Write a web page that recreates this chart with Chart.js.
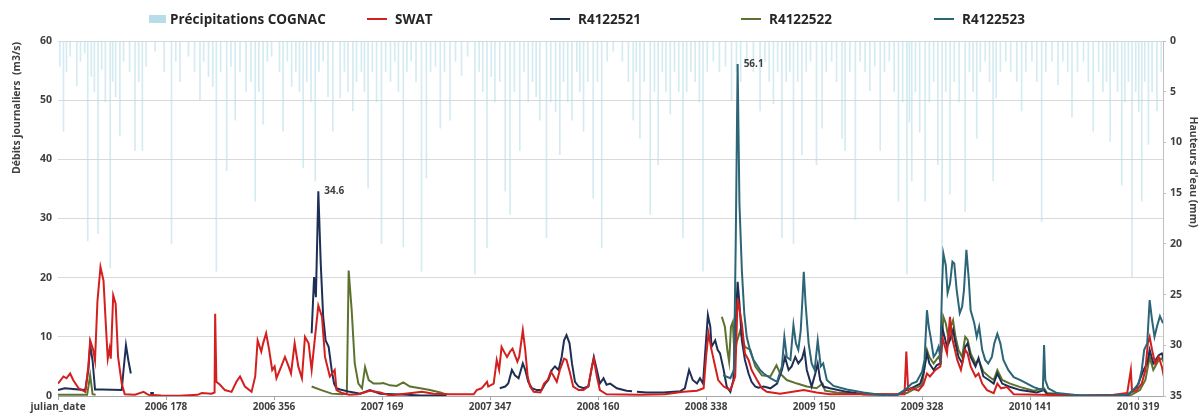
<!DOCTYPE html>
<html>
<head>
<meta charset="utf-8">
<script src="https://cdn.jsdelivr.net/npm/chart.js@4.4.1/dist/chart.umd.min.js"></script>
<style>
  html, body { margin: 0; padding: 0; background: #fff; }
  #wrap { position: relative; width: 1203px; height: 414px; }
  #legend { position: absolute; top: 9px; left: 0; width: 1203px; height: 20px;
    font: bold 13.5px "Open Sans", sans-serif; color: #262626; }
  .item { position: absolute; top: 0; display: flex; align-items: center; height: 20px; white-space: nowrap; }
  .box { width: 17px; height: 8px; background: #b7dde8; margin-right: 4px; }
  .line { width: 20px; height: 2px; margin-right: 8px; }
</style>
</head>
<body>
<div id="wrap">
  <canvas id="flowChart"></canvas>
  <div id="legend">
    <div class="item" style="left:149px"><span class="box"></span>Précipitations COGNAC</div>
    <div class="item" style="left:367px"><span class="line" style="background:#d41f1f"></span>SWAT</div>
    <div class="item" style="left:550px"><span class="line" style="background:#1e2f55"></span>R4122521</div>
    <div class="item" style="left:741px"><span class="line" style="background:#5e7230"></span>R4122522</div>
    <div class="item" style="left:934px"><span class="line" style="background:#2c6577"></span>R4122523</div>
  </div>
</div>
<script>
// day index since 2006-01-01 (category 0 is the "julian_date" header)
const tickDays = [0, 178, 356, 534, 712, 890, 1068, 1246, 1424, 1602, 1780];
const tickLabels = ['julian_date', '2006 178', '2006 356', '2007 169', '2007 347', '2008 160',
  '2008 338', '2009 150', '2009 328', '2010 141', '2010 319'];

// precipitation COGNAC, [day, mm]
const precip = [[3,2.5],[9,8.9],[14,3],[20,1.5],[31,4.4],[37,2],[44,1.2],[49,19.7],[55,3.5],[60,5],[66,19],[72,2.8],[78,6],[86,22.4],[90,4],[95,5.5],[102,9.3],[108,2],[118,3],[127,10.8],[133,4],[139,10.8],[145,2.5],[160,1],[175,3],[187,20],[194,2],[201,4],[215,1.5],[225,3],[234,5.8],[240,2],[248,3.5],[255,4.5],[261,22.7],[268,3],[278,12.8],[285,2.5],[292,7.8],[300,3],[310,5],[318,4],[325,15.8],[331,5],[338,8.2],[345,2],[352,1.5],[365,3],[371,8.9],[378,2],[385,4.5],[392,3],[398,5],[404,12.5],[410,4],[417,6],[424,13.8],[430,3],[437,2],[445,5.5],[453,8.9],[465,5.6],[472,3],[478,5],[486,6.9],[492,4],[500,3],[505,5],[511,14.5],[518,3],[525,6],[533,20],[540,3],[548,4],[555,2],[561,5],[569,20.3],[575,3],[582,2],[590,4],[599,22.7],[607,13.5],[614,3],
  [622,2.5],[630,8.6],[637,3],[646,7.8],[655,2],[665,3.4],[675,1.5],[687,23],[694,3],[700,5],[707,20.4],[714,3.5],[720,6],[728,4],[737,14.8],[745,17.1],[752,5],[761,10.8],[768,3],[775,6],[782,4],[788,5.5],[794,7.8],[805,19.4],[812,6],[820,7],[827,11.2],[833,4],[840,6],[847,7.8],[855,3],[860,5],[866,8.9],[873,4],[882,15.5],[889,4],[896,20.4],[905,2],[915,1],[930,2],[940,4],[948,7.8],[953,3],[959,9.6],[966,4],[976,17.1],[983,5],[989,12.2],[996,3],[1002,5],[1009,7.2],[1016,3],[1023,5],[1030,19.4],[1036,5],[1043,3],[1050,4],[1057,6],[1063,22.7],[1070,3],[1080,2],[1090,3],[1100,2.5],[1110,5.9],[1118,3],[1125,4],[1135,2],[1146,3],[1157,6.9],[1165,2],[1172,4],[1179,6.2],[1186,3],[1193,19.4],[1200,4],[1206,3],[1212,20],[1219,4],
  [1226,11.2],[1233,3],[1240,2],[1250,12.2],[1259,8.6],[1266,3],[1275,2],[1283,4],[1292,9.6],[1297,10.8],[1305,3],[1314,17.6],[1322,2],[1330,3],[1338,4.9],[1346,2.5],[1355,10.8],[1362,3],[1370,2],[1378,5],[1385,15.8],[1392,6],[1399,23],[1403,8],[1407,13.8],[1413,5],[1420,9],[1429,15.8],[1436,6],[1443,4],[1450,12.2],[1457,22.7],[1463,5],[1470,15.1],[1477,4],[1485,6],[1495,16.8],[1502,3],[1508,5],[1514,9.6],[1520,3],[1528,2],[1535,4],[1541,13.8],[1546,5.6],[1553,3],[1562,2],[1570,3],[1580,4],[1588,6.9],[1595,3],[1605,2],[1613,4],[1621,17.8],[1628,3],[1638,2],[1648,4.3],[1656,2],[1664,3],[1671,7.5],[1680,3],[1690,2],[1698,4],[1706,8.9],[1715,3],[1722,5],[1728,4],[1734,9.9],[1740,3],[1746,5],[1753,14.2],[1758,6],[1764,4],[1770,23.3],[1776,5],[1781,7],[1786,15.8],[1791,4],[1797,10.2],[1803,5],[1811,6.9],[1818,3]];

// daily flows, [day, m3/s]; null breaks the line where data is missing
const swat = [[0,2.1],[9,3.3],[14,3.0],[20,3.8],[25,2.7],[34,1.3],[45,0.7],[50,5],[53,9.4],[58,7.8],[61,6],[65,16],[70,21.8],[75,19.5],[79,11.7],[82,6.3],[85,8],[87,6.3],[91,17],[95,15.6],[99,6.6],[105,2.1],[110,0.3],[127,0.2],[141,0.7],[149,0.2],[170,0.1],[200,0.05],[230,0.2],[237,0.5],[253,0.4],[258,0.6],[259,13.9],[261,2.4],[267,1.9],[275,1.0],[286,0.7],[294,2.4],[300,3.3],[308,1.6],[319,0.7],[325,3.3],[329,9.4],[335,7.5],[338,8.9],[343,10.6],[348,7.8],[353,4.4],[357,5],[360,3],[368,5],[374,6.6],[380,5],[384,3.8],[390,8.9],[396,5],[402,3],[407,10],[413,8.9],[418,4.4],[423,9.4],[429,15.3],[435,13.4],[440,6.6],[448,3.3],[456,4.4],[459,1.0],[468,0.5],[480,0.2],[495,0.3],[514,0.9],[531,0.6],[547,0.1],[600,0.7],[619,0.4],[646,0.3],[685,0.3],[690,1.0],[698,1.3],[707,2.4],[709,1.6],[718,2.1],[723,6.1],[727,4.4],[731,8.3],[735,7.5],[740,6.6],[745,7.5],[749,8],[753,6.9],[757,5.8],[760,6.6],[766,11.1],[770,7.8],[774,3.3],[778,1.6],[784,0.7],[795,0.6],[801,2.1],[807,2.7],[812,4.1],[816,3.5],[822,2.4],[827,4.4],[834,6.3],[838,6.1],[844,3.8],[849,1.6],[858,1.0],[866,1.0],[874,1.6],[880,5],[883,6.3],[888,3.3],[893,1.0],[904,0.3],[960,0.2],[1000,0.3],[1031,0.7],[1053,0.9],[1064,1.3],[1068,6.6],[1072,10.6],[1077,7.8],[1083,5],[1088,2.7],[1097,1.6],[1108,1.0],[1116,3.3],[1120,16.5],[1127,12.2],[1132,7.2],[1138,6.1],[1143,4.4],[1152,2.7],[1160,1.3],[1168,0.7],[1190,0.4],[1229,1.0],[1250,0.6],[1272,0.3],[1380,0.3],[1395,0.3],[1398,7.5],[1401,1.0],[1407,1.3],[1418,0.9],[1426,1.9],[1432,3.8],[1437,3.3],[1446,4.4],[1454,5],[1457,10],[1460,8.9],[1465,7.2],[1470,13.4],[1473,10],[1477,8.3],[1482,6.1],[1488,4.4],[1495,7.8],[1499,7.2],[1504,5],[1512,3.3],[1517,3.8],[1523,2.1],[1531,1.0],[1542,0.5],[1548,2.1],[1554,1.3],[1564,1.5],[1575,0.3],[1620,0.2],[1685,0.1],[1740,0.2],[1762,0.5],[1768,4.4],[1770,0.7],[1778,1.0],[1786,2.1],[1792,4.4],[1796,8.9],[1799,10],[1803,7.8],[1808,5.5],[1814,6.6],[1819,5],[1823,3]];

const r4122521 = [[0,1.0],[11,1.3],[45,1.0],[50,4.4],[53,8.6],[57,6],[61,1.1],[72,1.1],[105,1.0],[108,4.4],[112,8.6],[116,6],[120,3.8],[121,null],[152,0.5],[158,0.5],[159,null],[418,10.6],[422,20.1],[425,16.7],[429,34.6],[433,22.4],[437,13.4],[441,9.4],[446,8.3],[451,4.4],[455,2.1],[459,1.3],[465,1.1],[481,0.7],[498,0.4],[514,1.0],[531,0.4],[575,0.2],[597,0.1],[640,0.1],[641,null],[728,1.3],[737,1.6],[742,2.1],[748,4.4],[753,3.5],[759,3],[766,5.5],[770,4.4],[775,2.4],[781,1.3],[789,1.0],[797,1.0],[803,2.1],[808,2.7],[814,4.4],[819,5],[825,4.4],[830,6.6],[834,9.4],[838,10.3],[843,8.9],[847,5.5],[852,2.4],[858,1.6],[866,1.3],[874,1.6],[880,5],[883,6.6],[888,4.4],[893,2.1],[899,3],[904,1.9],[910,2.1],[921,1.3],[937,0.9],[946,0.8],[950,null],[954,0.7],[970,0.6],[998,0.6],[1025,0.8],[1033,1.3],[1040,4.4],[1046,2.7],[1053,2.1],[1058,3.0],[1063,2.1],[1066,6.6],[1071,13.7],[1075,11.7],[1077,8.3],[1083,9.4],[1087,7.8],[1091,7.2],[1097,4.4],[1102,1.6],[1108,0.7],[1113,2.7],[1117,12.8],[1120,19.3],[1123,15.6],[1127,9.4],[1132,6.1],[1138,3.8],[1143,2.4],[1149,1.6],[1154,1.4],[1163,1.6],[1174,1.3],[1185,2.1],[1193,4.4],[1198,6.6],[1204,4.4],[1209,5],[1215,6.6],[1220,5.5],[1226,6.3],[1230,7.8],[1234,4.4],[1242,1.6],[1248,3.8],[1252,5.5],[1256,2.7],[1261,1.6],[1272,1.3],[1300,0.7],[1327,0.3],[1382,0.2],[1398,1.0],[1410,1.5],[1421,2.1],[1426,3.8],[1432,7.2],[1436,5.5],[1443,4.4],[1448,5.2],[1454,5.5],[1458,11.2],[1461,10],[1465,8.3],[1470,9.5],[1475,11.2],[1479,8.9],[1484,6.6],[1490,5.5],[1495,8.3],[1499,8.9],[1504,6.6],[1512,5],[1517,6.4],[1525,3.3],[1534,2.7],[1542,2.1],[1548,3.8],[1556,2.1],[1567,1.6],[1586,1.0],[1613,0.6],[1625,1.0],[1630,0.3],[1685,0.05],[1762,0.1],[1778,1.5],[1789,4.4],[1795,5.5],[1799,7.8],[1805,5.5],[1814,6.9],[1819,7.2],[1823,6.1]];

const r4122522 = [[0,0.2],[48,0.2],[53,3.5],[57,0.3],[62,0.2],[63,null],[418,1.6],[434,1.0],[451,0.4],[468,0.3],[476,0.4],[479,21.2],[484,14.5],[489,5.5],[495,2.1],[501,1.3],[506,4.9],[512,2.7],[520,2.1],[531,2.1],[536,2.2],[547,1.8],[558,1.7],[569,2.3],[580,1.6],[597,1.3],[613,1.0],[630,0.6],[641,0.2],[642,null],[1094,13.4],[1099,11.7],[1103,7.8],[1106,5.8],[1109,11.7],[1112,12.5],[1115,6.6],[1118,8.9],[1124,11],[1132,8.3],[1141,7.8],[1149,5],[1160,3.5],[1174,3.3],[1184,5.2],[1190,3.8],[1201,2.7],[1218,2.1],[1234,1.6],[1250,1.3],[1260,2.1],[1264,0.9],[1283,0.6],[1327,0.3],[1382,0.2],[1399,0.5],[1410,1.1],[1424,1.9],[1429,5.5],[1432,7.8],[1436,6.6],[1443,5.5],[1451,6.6],[1455,5.8],[1459,13.4],[1463,12.3],[1468,9.5],[1471,11.7],[1475,12.8],[1479,10],[1484,7.8],[1490,6.6],[1495,10],[1499,9.5],[1504,7.2],[1512,5.5],[1517,6.1],[1525,4.1],[1534,3.3],[1542,2.7],[1548,4.4],[1556,2.7],[1569,2.1],[1586,1.5],[1608,0.9],[1625,1.3],[1630,0.5],[1685,0.05],[1767,0.1],[1783,1.0],[1792,2.7],[1799,6.6],[1805,4.4],[1814,6.1],[1819,6.4],[1823,5.5]];

const r4122523 = [[1096,3.5],[1108,3.0],[1114,4.4],[1117,26.9],[1120,56.1],[1123,32.5],[1127,21.2],[1131,13.9],[1135,10],[1141,7.5],[1146,6.1],[1152,5.2],[1157,4.4],[1163,3.8],[1174,3.0],[1185,2.4],[1193,5],[1197,10],[1201,6.6],[1207,6.1],[1212,12],[1216,8.9],[1220,7.8],[1224,11.1],[1227,16.7],[1229,21],[1232,15.6],[1237,8.9],[1242,5.5],[1247,4.4],[1252,9.4],[1257,5],[1261,5.5],[1267,2.7],[1278,1.7],[1300,1.1],[1327,0.6],[1355,0.2],[1382,0.1],[1399,1.3],[1407,2.1],[1415,2.4],[1424,4.1],[1428,6.1],[1432,14.5],[1435,11.7],[1438,10],[1443,6.6],[1447,7.2],[1451,8.3],[1454,6.6],[1457,19],[1459,24.1],[1463,22.1],[1466,17.4],[1470,19],[1474,22.7],[1477,22.4],[1481,17.9],[1486,14],[1490,15.1],[1493,17.9],[1497,24.7],[1501,19.6],[1504,14.5],[1510,12.3],[1514,10],[1518,11.7],[1523,7.8],[1528,6.1],[1533,5.5],[1539,6.6],[1543,8.9],[1548,10.5],[1553,8.9],[1558,6.1],[1566,4.4],[1575,3.2],[1586,2.7],[1597,2.1],[1608,1.5],[1619,1.1],[1623,1.0],[1625,8.6],[1627,2.7],[1632,1.3],[1646,0.5],[1685,0.1],[1740,0.1],[1762,0.2],[1772,1.0],[1781,2.1],[1786,4.4],[1790,7.8],[1795,8.9],[1799,16.2],[1803,12.8],[1807,10],[1811,11.7],[1816,13.5],[1821,12.3],[1823,10.3]];

// peaks labelled on the chart
const peakLabels = [{ set: 1, day: 429, text: '34.6' }, { set: 4, day: 1120, text: '56.1' }];

const toXY = arr => arr.map(p => ({ x: p[0], y: p[1] }));
const textColor = '#404040';
const tickFont = { family: 'Open Sans', size: 10, weight: 'bold' };

const extraText = {
  id: 'extraText',
  afterDatasetsDraw(chart) {
    const { ctx, scales } = chart;
    ctx.save();
    ctx.fillStyle = textColor;
    ctx.font = 'bold 10px "Open Sans"';
    ctx.textBaseline = 'middle';
    ctx.textAlign = 'left';
    peakLabels.forEach(p => {
      const pt = chart.data.datasets[p.set].data.find(d => d.x === p.day);
      ctx.fillText(p.text, scales.x.getPixelForValue(pt.x) + 6, scales.y.getPixelForValue(pt.y));
    });
    // axis titles
    ctx.textAlign = 'center';
    ctx.font = 'bold 10.5px "Open Sans"';
    ctx.translate(17, 108);
    ctx.rotate(-Math.PI / 2);
    ctx.fillText('Débits journaliers  (m3/s)', 0, 0);
    ctx.restore();
    ctx.save();
    ctx.fillStyle = textColor;
    ctx.font = 'bold 10.5px "Open Sans"';
    ctx.textAlign = 'center';
    ctx.textBaseline = 'middle';
    ctx.translate(1193, 172);
    ctx.rotate(Math.PI / 2);
    ctx.fillText("Hauteurs d'eau (mm)", 0, 0);
    ctx.restore();
  }
};

new Chart(document.getElementById('flowChart'), {
  type: 'line',
  data: {
    datasets: [
      { type: 'bar', label: 'Précipitations COGNAC', data: toXY(precip), yAxisID: 'yR',
        backgroundColor: 'rgba(183, 221, 232, 0.6)', barThickness: 1, order: 10 },
      { label: 'R4122521', data: toXY(r4122521), borderColor: '#1e2f55', order: 3 },
      { label: 'R4122522', data: toXY(r4122522), borderColor: '#5e7230', order: 4 },
      { label: 'SWAT', data: toXY(swat), borderColor: '#d41f1f', order: 2 },
      { label: 'R4122523', data: toXY(r4122523), borderColor: '#2c6577', order: 1 }
    ]
  },
  options: {
    responsive: true,
    maintainAspectRatio: false,
    animation: false,
    layout: { padding: { top: 41, left: 0, right: 0, bottom: 0 } },
    elements: {
      line: { borderWidth: 2, tension: 0, fill: false, spanGaps: false },
      point: { radius: 0 }
    },
    plugins: { legend: { display: false }, tooltip: { enabled: false } },
    scales: {
      x: {
        type: 'linear', min: 0, max: 1821, offset: false,
        afterBuildTicks: s => { s.ticks = tickDays.map(v => ({ value: v })); },
        afterFit: s => { s.height = 18; s.paddingLeft = 0; s.paddingRight = 0; },
        ticks: { autoSkip: false, maxRotation: 0, padding: 1, color: textColor, font: tickFont,
          callback: v => tickLabels[tickDays.indexOf(v)] },
        grid: { offset: false, drawOnChartArea: false, tickLength: 4, color: '#a6a6a6' },
        border: { color: '#a6a6a6' }
      },
      y: {
        position: 'left', min: 0, max: 60,
        afterFit: s => { s.width = 58; s.paddingTop = 0; s.paddingBottom = 0; },
        ticks: { stepSize: 10, padding: 6, color: textColor, font: { ...tickFont, size: 10.5 } },
        grid: { color: '#d9d9d9', drawTicks: false },
        border: { display: false }
      },
      yR: {
        position: 'right', reverse: true, min: 0, max: 35,
        afterFit: s => { s.width = 40; s.paddingTop = 0; s.paddingBottom = 0; },
        ticks: { stepSize: 5, padding: 4, color: textColor, font: { ...tickFont, size: 10.5 } },
        grid: { drawOnChartArea: false, tickLength: 3, color: '#bfbfbf' },
        border: { color: '#bfbfbf' }
      }
    }
  },
  plugins: [extraText]
});
</script>
</body>
</html>
